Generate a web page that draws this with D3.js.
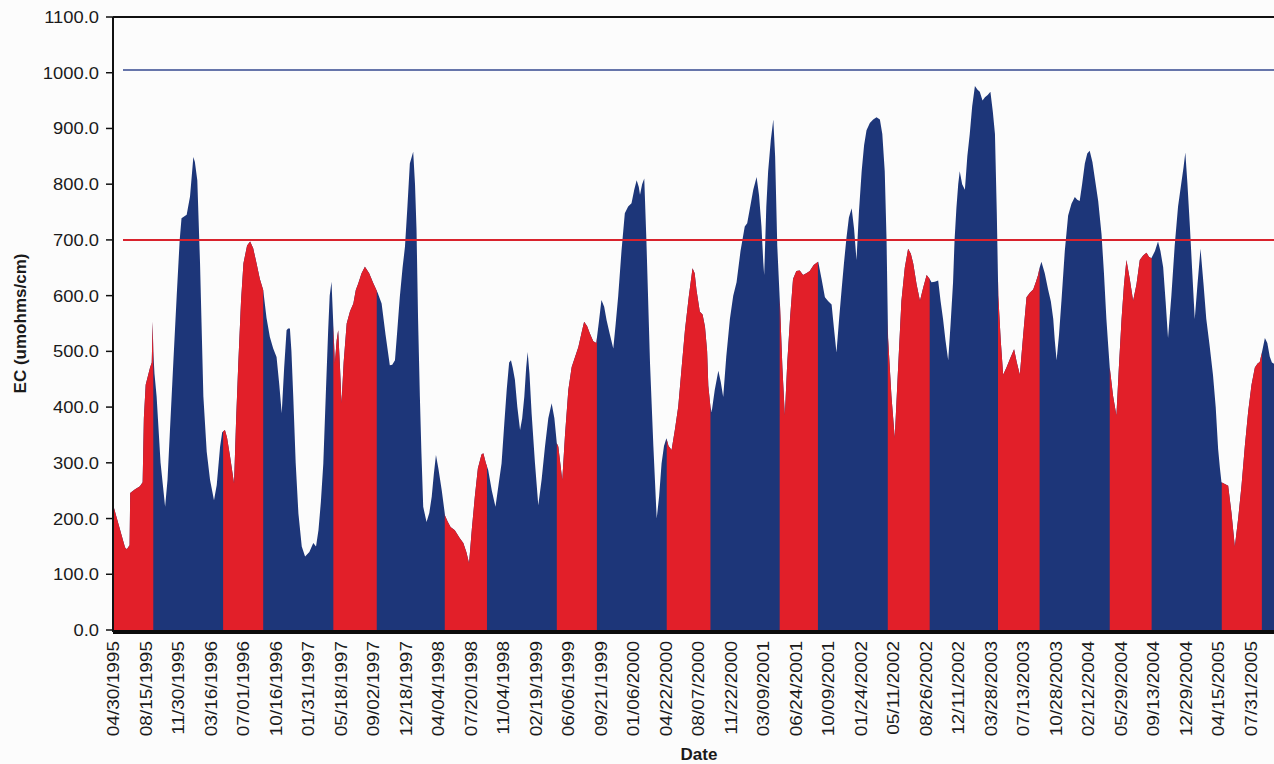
<!DOCTYPE html>
<html>
<head>
<meta charset="utf-8">
<script src="https://cdn.jsdelivr.net/npm/d3@7"></script>
<style>
  body { margin: 0; background: #fcfcfc; }
  svg { display: block; font-family: "Liberation Sans", Arial, sans-serif; }
</style>
</head>
<body>
<svg id="chart"></svg>
<script>
// first sample of the record and right edge of the (cropped) plot
const startDate = new Date(1995, 3, 30);
const endDate = new Date(2005, 9, 16);

// days since 04/30/1995 and EC readings (umohms/cm)
const sampleDays = [0, 38, 44, 50, 53, 55, 70, 87, 96, 100, 106, 120, 126, 129, 131, 135, 142, 155, 170, 178,
  186, 197, 208, 218, 224, 241, 252, 263, 268, 276, 285, 296, 307, 318, 331, 340, 351, 358, 367, 374,
  384, 397, 404, 411, 420, 428, 440, 450, 460, 471, 482, 493, 504, 515, 526, 537, 546, 554, 562, 570,
  575, 581, 586, 592, 600, 609, 620, 631, 645, 658, 667, 675, 683, 691, 699, 707, 712, 718, 723, 729,
  735, 740, 746, 751, 758, 768, 779, 790, 798, 806, 817, 828, 842, 856, 870, 883, 896, 910, 918, 927,
  935, 943, 952, 960, 968, 976, 987, 993, 998, 1003, 1009, 1014, 1020, 1031, 1040, 1048, 1055, 1062, 1070, 1081,
  1092, 1100, 1110, 1124, 1140, 1152, 1162, 1171, 1180, 1190, 1200, 1212, 1218, 1226, 1234, 1246, 1258, 1268, 1278, 1287,
  1295, 1303, 1309, 1315, 1322, 1330, 1339, 1346, 1353, 1359, 1364, 1370, 1377, 1388, 1399, 1410, 1421, 1432, 1443, 1452,
  1460, 1465, 1478, 1487, 1498, 1509, 1520, 1531, 1540, 1550, 1560, 1569, 1580, 1590, 1599, 1607, 1616, 1624, 1635, 1646,
  1654, 1662, 1673, 1684, 1695, 1706, 1715, 1723, 1730, 1734, 1741, 1748, 1755, 1767, 1778, 1789, 1797, 1805, 1813, 1821,
  1828, 1838, 1849, 1860, 1871, 1882, 1895, 1907, 1914, 1920, 1931, 1940, 1948, 1955, 1959, 1966, 1970, 1980, 1992, 2000,
  2008, 2018, 2030, 2041, 2052, 2065, 2079, 2087, 2096, 2107, 2118, 2126, 2134, 2140, 2143, 2150, 2156, 2165, 2173, 2179,
  2186, 2195, 2203, 2211, 2219, 2228, 2238, 2249, 2260, 2271, 2282, 2293, 2306, 2321, 2332, 2343, 2354, 2365, 2373, 2381,
  2390, 2398, 2406, 2414, 2422, 2431, 2439, 2447, 2455, 2464, 2472, 2480, 2491, 2502, 2513, 2524, 2532, 2540, 2546, 2551,
  2562, 2573, 2584, 2595, 2606, 2617, 2626, 2634, 2645, 2656, 2667, 2678, 2688, 2694, 2705, 2716, 2724, 2732, 2740, 2749,
  2757, 2765, 2770, 2776, 2782, 2787, 2795, 2804, 2812, 2820, 2828, 2837, 2845, 2853, 2862, 2870, 2879, 2888, 2896, 2903,
  2909, 2914, 2922, 2930, 2941, 2955, 2966, 2975, 2985, 2996, 3007, 3018, 3029, 3038, 3045, 3050, 3056, 3067, 3078, 3087,
  3095, 3100, 3106, 3114, 3122, 3133, 3144, 3155, 3166, 3174, 3182, 3190, 3199, 3207, 3215, 3224, 3232, 3243, 3254, 3262,
  3270, 3276, 3281, 3292, 3303, 3311, 3320, 3328, 3336, 3347, 3358, 3369, 3380, 3391, 3402, 3410, 3418, 3430, 3440, 3448,
  3457, 3465, 3473, 3484, 3495, 3506, 3517, 3524, 3530, 3537, 3545, 3553, 3561, 3570, 3580, 3590, 3599, 3610, 3621, 3630,
  3638, 3644, 3649, 3660, 3671, 3682, 3693, 3704, 3715, 3726, 3737, 3748, 3759, 3768, 3775, 3783, 3792, 3800, 3808, 3815,
  3821, 3830];

const ecValues = [222, 148, 145, 150, 152, 246, 252, 258, 265, 380, 440, 470, 480, 553, 500, 460, 419, 300, 221, 270,
  359, 480, 598, 700, 739, 745, 778, 849, 840, 807, 658, 419, 320, 269, 233, 260, 329, 355, 359, 345,
  311, 263, 380, 478, 590, 658, 690, 697, 685, 658, 630, 610, 560, 526, 505, 490, 440, 389, 470, 538,
  541, 541, 500, 419, 300, 209, 150, 132, 140, 156, 150, 179, 230, 299, 420, 538, 600, 625, 560, 478,
  520, 538, 470, 407, 480, 550, 572, 586, 610, 622, 640, 652, 640, 622, 605, 586, 530, 475, 476, 484,
  540, 598, 650, 688, 760, 837, 858, 800, 718, 560, 419, 320, 221, 194, 210, 239, 280, 314, 290, 251,
  205, 195, 185, 179, 165, 156, 140, 120, 180, 239, 290, 315, 317, 300, 287, 250, 221, 260, 299, 370,
  431, 480, 484, 470, 449, 400, 359, 380, 419, 470, 499, 460, 389, 300, 224, 270, 329, 380, 407, 380,
  335, 329, 269, 350, 431, 472, 490, 508, 530, 553, 545, 532, 518, 515, 555, 592, 580, 556, 530, 505,
  550, 598, 680, 748, 760, 766, 790, 807, 795, 781, 800, 810, 700, 478, 330, 200, 240, 299, 330, 344,
  330, 323, 360, 401, 470, 538, 600, 649, 640, 610, 571, 566, 544, 500, 438, 400, 391, 430, 465, 445,
  418, 490, 558, 600, 624, 680, 724, 730, 757, 790, 813, 780, 724, 660, 637, 760, 823, 880, 916, 850,
  690, 584, 470, 385, 480, 558, 630, 644, 645, 637, 640, 644, 655, 661, 630, 597, 590, 584, 540, 498,
  560, 611, 660, 704, 740, 757, 720, 664, 750, 823, 870, 897, 910, 916, 920, 916, 890, 823, 700, 524,
  420, 345, 470, 591, 650, 684, 675, 657, 620, 591, 615, 637, 630, 624, 625, 627, 590, 558, 520, 484,
  550, 624, 700, 757, 800, 823, 800, 790, 850, 890, 940, 976, 970, 966, 950, 956, 960, 966, 930, 890,
  750, 600, 520, 458, 471, 490, 504, 480, 458, 530, 597, 605, 611, 625, 637, 650, 661, 640, 611, 590,
  558, 520, 484, 530, 591, 680, 744, 765, 777, 772, 770, 800, 837, 855, 860, 840, 810, 770, 710, 640,
  558, 510, 471, 420, 385, 470, 558, 620, 664, 630, 591, 620, 664, 672, 677, 670, 667, 680, 697, 680,
  651, 590, 524, 600, 690, 760, 803, 830, 857, 800, 724, 640, 558, 620, 684, 620, 558, 510, 458, 400,
  325, 290, 265, 262, 259, 210, 150, 200, 259, 330, 392, 440, 471, 478, 481, 500, 524, 515, 491, 480,
  478, 470];

// red periods (days since 04/30/1995)
const seasonStartDays = [0, 361, 724, 1091, 1460, 1822, 2194, 2550, 2913, 3281, 3650];
const seasonEndDays = [131, 493, 867, 1230, 1592, 1966, 2320, 2688, 3050, 3419, 3782];

const dateLabels = ['04/30/1995', '08/15/1995', '11/30/1995', '03/16/1996', '07/01/1996', '10/16/1996',
  '01/31/1997', '05/18/1997', '09/02/1997', '12/18/1997', '04/04/1998', '07/20/1998', '11/04/1998',
  '02/19/1999', '06/06/1999', '09/21/1999', '01/06/2000', '04/22/2000', '08/07/2000', '11/22/2000',
  '03/09/2001', '06/24/2001', '10/09/2001', '01/24/2002', '05/11/2002', '08/26/2002', '12/11/2002',
  '03/28/2003', '07/13/2003', '10/28/2003', '02/12/2004', '05/29/2004', '09/13/2004', '12/29/2004',
  '04/15/2005', '07/31/2005'];

const yTicks = [0, 100, 200, 300, 400, 500, 600, 700, 800, 900, 1000, 1100];

const blueLimit = 1005;
const redLimit = 700;

const width = 1274, height = 764;
const margin = { top: 17, left: 113, bottom: 134 };
const plotBottom = height - margin.bottom;

const svg = d3.select('#chart')
    .attr('width', width)
    .attr('height', height);

const x = d3.scaleTime()
    .domain([startDate, endDate])
    .range([margin.left + 0.5, width]);

const y = d3.scaleLinear()
    .domain([0, 1100])
    .range([plotBottom, margin.top]);

const parseDate = d3.timeParse('%m/%d/%Y');
const dayToDate = d => d3.timeDay.offset(startDate, d);

const points = sampleDays.map((d, i) => ({ day: d, value: ecValues[i] }));

const area = d3.area()
    .x(p => x(dayToDate(p.day)))
    .y0(y(0))
    .y1(p => y(p.value));

// value at an arbitrary day, used only to close the red pieces at their edges
const bisect = d3.bisector(p => p.day).left;
function valueAt(day) {
    const i = bisect(points, day);
    if (i <= 0) return points[0].value;
    if (i >= points.length) return points[points.length - 1].value;
    const a = points[i - 1], b = points[i];
    return a.value + (b.value - a.value) * (day - a.day) / (b.day - a.day);
}

const blue = '#1d3679';
const red = '#e21f29';

// whole record in blue
svg.append('path')
    .datum(points)
    .attr('d', area)
    .attr('fill', blue);

// red periods on top
seasonStartDays.forEach((s, k) => {
    const e = seasonEndDays[k];
    const seg = [{ day: s, value: valueAt(s) }]
        .concat(points.filter(p => p.day > s && p.day < e))
        .concat([{ day: e, value: valueAt(e) }]);
    svg.append('path')
        .datum(seg)
        .attr('d', area)
        .attr('fill', red);
});

// limit lines
svg.append('line')
    .attr('x1', margin.left + 10).attr('x2', width)
    .attr('y1', y(blueLimit)).attr('y2', y(blueLimit))
    .attr('stroke', '#34488f').attr('stroke-width', 1.5);

svg.append('line')
    .attr('x1', margin.left + 10).attr('x2', width)
    .attr('y1', y(redLimit)).attr('y2', y(redLimit))
    .attr('stroke', '#d9232d').attr('stroke-width', 2);

// frame: top line, y axis, thick x axis
svg.append('line')
    .attr('x1', margin.left).attr('x2', width)
    .attr('y1', margin.top).attr('y2', margin.top)
    .attr('stroke', '#111').attr('stroke-width', 2);

svg.append('rect')
    .attr('x', margin.left).attr('y', plotBottom)
    .attr('width', width - margin.left).attr('height', 4)
    .attr('fill', '#0b0b0b');

svg.append('line')
    .attr('x1', margin.left).attr('x2', margin.left)
    .attr('y1', margin.top).attr('y2', plotBottom + 2)
    .attr('stroke', '#111').attr('stroke-width', 2);

// y ticks and labels
const yAxis = svg.append('g');
yTicks.forEach(t => {
    yAxis.append('line')
        .attr('x1', margin.left - 7).attr('x2', margin.left)
        .attr('y1', y(t)).attr('y2', y(t))
        .attr('stroke', '#111').attr('stroke-width', 1.5);
    yAxis.append('text')
        .attr('transform', `translate(${margin.left - 14},${y(t)}) scale(1.08,1)`)
        .attr('dy', '0.35em')
        .attr('text-anchor', 'end')
        .style('font-size', '17px')
        .style('fill', '#1a1a1a')
        .text(d3.format('.1f')(t));
});

// x labels, rotated
const xAxis = svg.append('g');
dateLabels.forEach(lbl => {
    xAxis.append('text')
        .attr('transform', `translate(${x(parseDate(lbl))},${plotBottom + 11}) rotate(-90) scale(1.12,1)`)
        .attr('dy', '0.35em')
        .attr('text-anchor', 'end')
        .style('font-size', '17px')
        .style('fill', '#1a1a1a')
        .text(lbl);
});

// axis titles
svg.append('text')
    .attr('transform', `translate(20,${(margin.top + plotBottom) / 2}) rotate(-90)`)
    .attr('dy', '0.35em')
    .attr('text-anchor', 'middle')
    .style('font-size', '17px')
    .style('font-weight', 'bold')
    .style('fill', '#1a1a1a')
    .text('EC (umohms/cm)');

svg.append('text')
    .attr('x', 699)
    .attr('y', 760)
    .attr('text-anchor', 'middle')
    .style('font-size', '17px')
    .style('font-weight', 'bold')
    .style('fill', '#1a1a1a')
    .text('Date');
</script>
</body>
</html>
